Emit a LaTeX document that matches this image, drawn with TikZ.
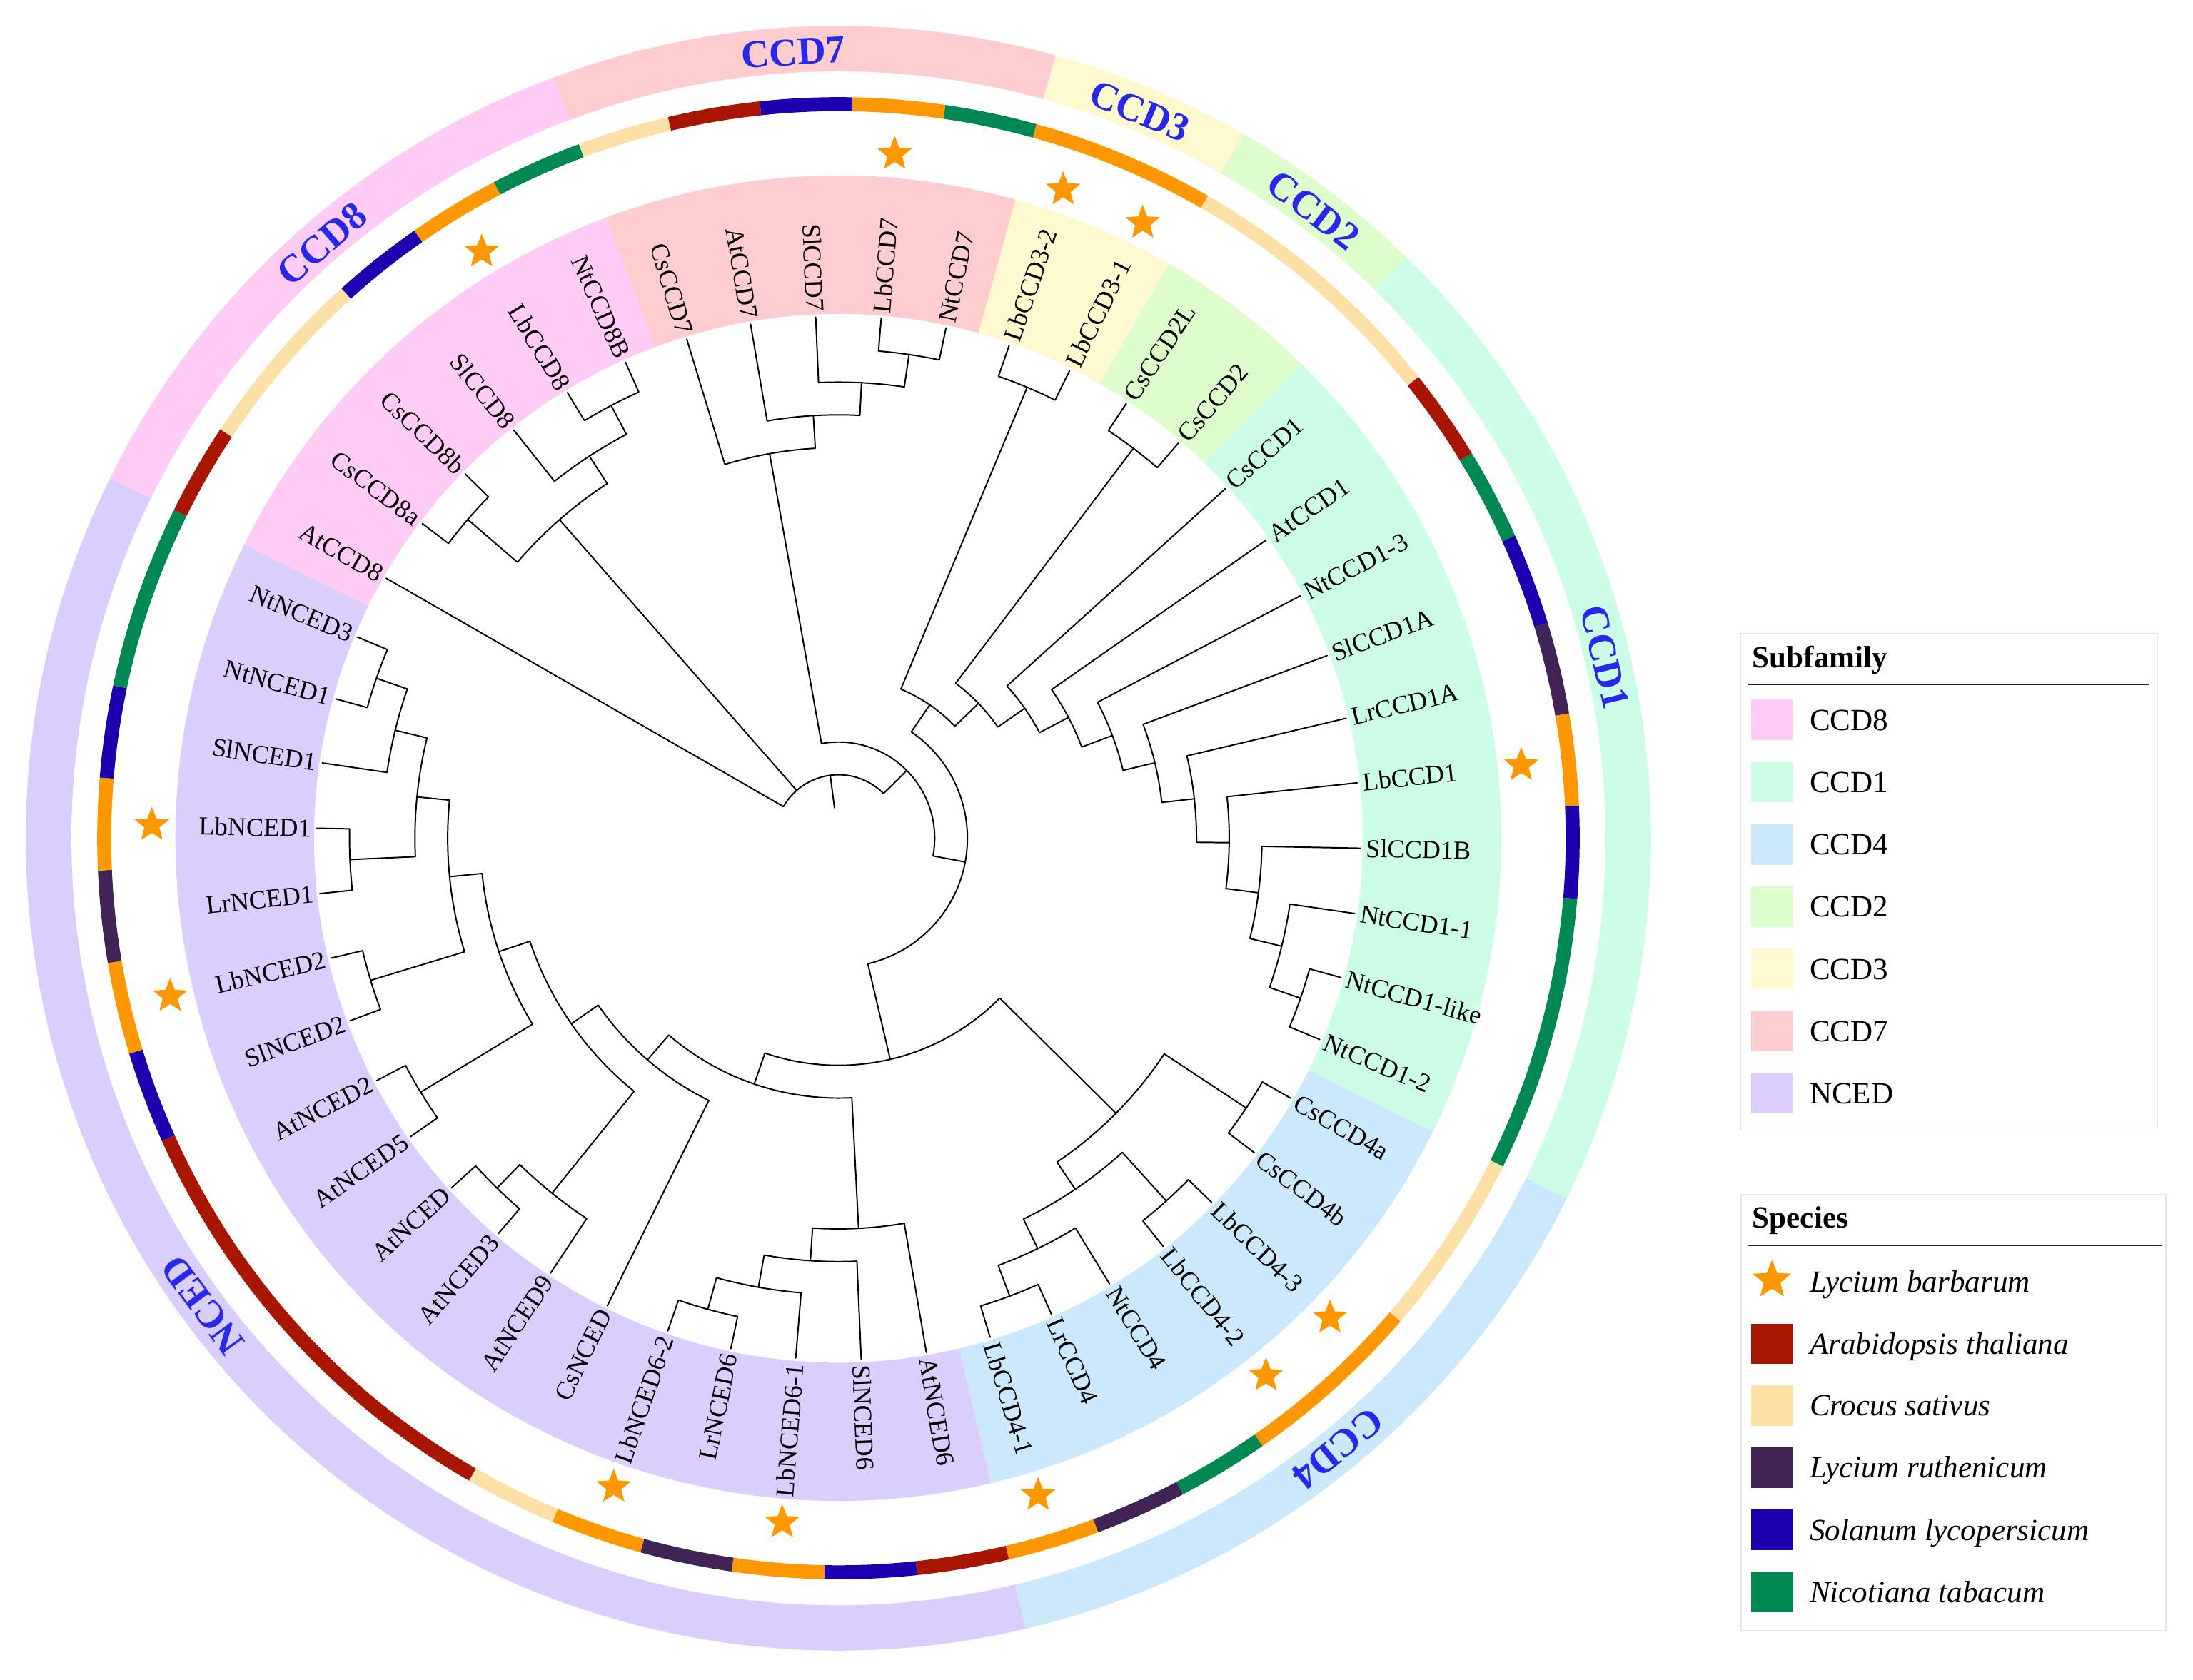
\documentclass[tikz,border=0pt]{standalone}
\usepackage{fontspec}
\setmainfont{Liberation Serif}
\usetikzlibrary{shapes.geometric}
\definecolor{cAt}{RGB}{168,22,2}
\definecolor{cCs}{RGB}{253,224,166}
\definecolor{cLr}{RGB}{65,36,86}
\definecolor{cSl}{RGB}{28,0,176}
\definecolor{cNt}{RGB}{0,136,82}
\definecolor{cLb}{RGB}{255,152,0}
\definecolor{fCCDviii}{RGB}{255,204,245}
\definecolor{fCCDi}{RGB}{204,253,230}
\definecolor{fCCDiv}{RGB}{204,232,253}
\definecolor{fCCDii}{RGB}{222,253,204}
\definecolor{fCCDiii}{RGB}{255,249,207}
\definecolor{fCCDvii}{RGB}{255,205,208}
\definecolor{fNCED}{RGB}{217,206,253}
\definecolor{ringtext}{RGB}{40,40,235}
\definecolor{legframe}{RGB}{230,230,230}
\newcommand{\cladeln}[5]{\draw[branch] (#1:#2) -- (#1:#5) arc[start angle=#1, end angle=#3, radius=#5pt] -- (#3:#4);}
\newcommand{\ringseg}[5]{\fill[#5] (#1:#3) arc[start angle=#1, end angle=#2, radius=#3pt] -- (#2:#4) arc[start angle=#2, end angle=#1, radius=#4pt] -- cycle;}
\tikzset{
  branch/.style={line width=1pt, black, line cap=round, line join=round},
  leafR/.style={font=\fontsize{18.5}{20}\selectfont, inner sep=0pt, anchor=west},
  leafL/.style={font=\fontsize{18.5}{20}\selectfont, inner sep=0pt, anchor=east},
  ringlab/.style={font=\fontsize{28}{30}\selectfont\bfseries, text=ringtext, inner sep=0pt},
  lbstar/.style={star, star points=5, star point ratio=2.3, fill=cLb, draw=none, minimum size=26pt, inner sep=0pt},
  legtext/.style={font=\fontsize{22}{24}\selectfont, anchor=base west, inner sep=0pt},
  legtitle/.style={font=\fontsize{22}{24}\selectfont\bfseries, anchor=base west, inner sep=0pt},
  legbox/.style={draw=legframe, line width=0.8pt},
}
\begin{document}
\begin{tikzpicture}[x=1pt,y=1pt]
\useasboundingbox (-599.5,-602) rectangle (968.5,599.5);
\fill[white] (-599.5,-602) rectangle (968.5,599.5);
% inner subfamily bands
\ringseg{153.7}{110.5}{375}{474}{fCCDviii}
\ringseg{110.5}{74.5}{375}{474}{fCCDvii}
\ringseg{74.5}{60.1}{375}{474}{fCCDiii}
\ringseg{60.1}{45.7}{375}{474}{fCCDii}
\ringseg{45.7}{-26.3}{375}{474}{fCCDi}
\ringseg{-26.3}{-76.7}{375}{474}{fCCDiv}
\ringseg{-76.7}{-206.3}{375}{474}{fNCED}
% outer subfamily ring
\ringseg{153.7}{110.5}{548.5}{581}{fCCDviii}
\ringseg{110.5}{74.5}{548.5}{581}{fCCDvii}
\ringseg{74.5}{60.1}{548.5}{581}{fCCDiii}
\ringseg{60.1}{45.7}{548.5}{581}{fCCDii}
\ringseg{45.7}{-26.3}{548.5}{581}{fCCDi}
\ringseg{-26.3}{-76.7}{548.5}{581}{fCCDiv}
\ringseg{-76.7}{-206.3}{548.5}{581}{fNCED}
% species ring
\ringseg{153.7}{146.5}{520}{530}{cAt}
\ringseg{146.5}{132.1}{520}{530}{cCs}
\ringseg{132.1}{124.9}{520}{530}{cSl}
\ringseg{124.9}{117.7}{520}{530}{cLb}
\ringseg{117.7}{110.5}{520}{530}{cNt}
\ringseg{110.5}{103.3}{520}{530}{cCs}
\ringseg{103.3}{96.1}{520}{530}{cAt}
\ringseg{96.1}{88.9}{520}{530}{cSl}
\ringseg{88.9}{81.7}{520}{530}{cLb}
\ringseg{81.7}{74.5}{520}{530}{cNt}
\ringseg{74.5}{60.1}{520}{530}{cLb}
\ringseg{60.1}{38.5}{520}{530}{cCs}
\ringseg{38.5}{31.3}{520}{530}{cAt}
\ringseg{31.3}{24.1}{520}{530}{cNt}
\ringseg{24.1}{16.9}{520}{530}{cSl}
\ringseg{16.9}{9.7}{520}{530}{cLr}
\ringseg{9.7}{2.5}{520}{530}{cLb}
\ringseg{2.5}{-4.7}{520}{530}{cSl}
\ringseg{-4.7}{-26.3}{520}{530}{cNt}
\ringseg{-26.3}{-40.7}{520}{530}{cCs}
\ringseg{-40.7}{-55.1}{520}{530}{cLb}
\ringseg{-55.1}{-62.3}{520}{530}{cNt}
\ringseg{-62.3}{-69.5}{520}{530}{cLr}
\ringseg{-69.5}{-76.7}{520}{530}{cLb}
\ringseg{-76.7}{-83.9}{520}{530}{cAt}
\ringseg{-83.9}{-91.1}{520}{530}{cSl}
\ringseg{-91.1}{-98.3}{520}{530}{cLb}
\ringseg{-98.3}{-105.5}{520}{530}{cLr}
\ringseg{-105.5}{-112.7}{520}{530}{cLb}
\ringseg{-112.7}{-119.9}{520}{530}{cCs}
\ringseg{-119.9}{-155.9}{520}{530}{cAt}
\ringseg{-155.9}{-163.1}{520}{530}{cSl}
\ringseg{-163.1}{-170.3}{520}{530}{cLb}
\ringseg{-170.3}{-177.5}{520}{530}{cLr}
\ringseg{-177.5}{-184.7}{520}{530}{cLb}
\ringseg{-184.7}{-191.9}{520}{530}{cSl}
\ringseg{-191.9}{-206.3}{520}{530}{cNt}
% stars (Lycium barbarum)
\foreach \a in {121.3,85.3,70.9,63.7,6.1,-44.3,-51.5,-73.1,-94.7,-109.1,-166.7,-181.1}
  \node[lbstar] at (\a:491) {};
% outer ring labels
\node[ringlab, rotate=41.0] (gCCD8) at (131.0:563) {CCD8};
\node[ringlab, rotate=3.3] (gCCD7) at (93.3:563) {CCD7};
\node[ringlab, rotate=-22.5] (gCCD3) at (67.5:563) {CCD3};
\node[ringlab, rotate=-37.1] (gCCD2) at (52.9:563) {CCD2};
\node[ringlab, rotate=-76.7] (gCCD1) at (13.3:563) {CCD1};
\node[ringlab, rotate=-140.7] (gCCD4) at (-50.7:564) {CCD4};
\node[ringlab, rotate=126.3] (gNCED) at (216.3:564) {NCED};
% tree
\cladeln{121.3}{373}{114.1}{373}{349.6}
\cladeln{128.5}{373}{117.7}{349.6}{326.2}
\cladeln{142.9}{373}{135.7}{373}{349.6}
\cladeln{139.3}{349.6}{123.1}{326.2}{302.8}
\cladeln{85.3}{373}{78.1}{373}{349.6}
\cladeln{92.5}{373}{81.7}{349.6}{326.2}
\cladeln{99.7}{373}{87.1}{326.2}{302.8}
\cladeln{106.9}{373}{93.4}{302.8}{279.4}
\cladeln{70.9}{373}{63.7}{373}{349.6}
\cladeln{56.5}{373}{49.3}{373}{349.6}
\cladeln{-15.5}{373}{-22.7}{373}{349.6}
\cladeln{-8.3}{373}{-19.1}{349.6}{326.2}
\cladeln{-1.1}{373}{-13.7}{326.2}{302.8}
\cladeln{6.1}{373}{-7.4}{302.8}{279.4}
\cladeln{13.3}{373}{-0.65}{279.4}{256.0}
\cladeln{20.5}{373}{6.325}{256.0}{232.6}
\cladeln{27.7}{373}{13.4125}{232.6}{209.2}
\cladeln{34.9}{373}{20.556}{209.2}{185.8}
\cladeln{42.1}{373}{27.728}{185.8}{162.4}
\cladeln{52.9}{349.6}{34.914}{162.4}{139.0}
\cladeln{67.3}{349.6}{43.907}{139.0}{115.6}
\cladeln{-29.9}{373}{-37.1}{373}{349.6}
\cladeln{-44.3}{373}{-51.5}{373}{349.6}
\cladeln{-65.9}{373}{-73.1}{373}{349.6}
\cladeln{-58.7}{373}{-69.5}{349.6}{326.2}
\cladeln{-47.9}{349.6}{-64.1}{326.2}{302.8}
\cladeln{-33.5}{349.6}{-56.0}{302.8}{279.4}
\cladeln{-101.9}{373}{-109.1}{373}{349.6}
\cladeln{-94.7}{373}{-105.5}{349.6}{326.2}
\cladeln{-87.5}{373}{-100.1}{326.2}{302.8}
\cladeln{-80.3}{373}{-93.8}{302.8}{279.4}
\cladeln{-130.7}{373}{-137.9}{373}{349.6}
\cladeln{-123.5}{373}{-134.3}{349.6}{326.2}
\cladeln{-145.1}{373}{-152.3}{373}{349.6}
\cladeln{-195.5}{373}{-202.7}{373}{349.6}
\cladeln{-188.3}{373}{-199.1}{349.6}{326.2}
\cladeln{-173.9}{373}{-181.1}{373}{349.6}
\cladeln{-177.5}{349.6}{-193.7}{326.2}{302.8}
\cladeln{-159.5}{373}{-166.7}{373}{349.6}
\cladeln{-163.1}{349.6}{-185.6}{302.8}{279.4}
\cladeln{-148.7}{349.6}{-174.35}{279.4}{256.0}
\cladeln{-128.9}{326.2}{-161.525}{256.0}{232.6}
\cladeln{-116.3}{373}{-145.2125}{232.6}{209.2}
\cladeln{-87.05}{279.4}{-130.756}{209.2}{185.8}
\cladeln{-44.75}{279.4}{-108.903}{185.8}{162.4}
\cladeln{55.603}{115.6}{-76.827}{162.4}{92.2}
\cladeln{100.15}{279.4}{-10.612}{92.2}{68.8}
\cladeln{150.1}{373}{44.769}{68.8}{45.4}
\draw[branch] (131.2:45.4) -- (131.2:302.8);
\draw[branch] (97.435:45.4) -- (97.435:22);
% leaf labels
\node[leafL, rotate=-29.9] (l1) at (150.1:377) {AtCCD8};
\node[leafL, rotate=-37.1] (l2) at (142.9:377) {CsCCD8a};
\node[leafL, rotate=-44.3] (l3) at (135.7:377) {CsCCD8b};
\node[leafL, rotate=-51.5] (l4) at (128.5:377) {SlCCD8};
\node[leafL, rotate=-58.7] (l5) at (121.3:377) {LbCCD8};
\node[leafL, rotate=-65.9] (l6) at (114.1:377) {NtCCD8B};
\node[leafL, rotate=-73.1] (l7) at (106.9:377) {CsCCD7};
\node[leafL, rotate=-80.3] (l8) at (99.7:377) {AtCCD7};
\node[leafL, rotate=-87.5] (l9) at (92.5:377) {SlCCD7};
\node[leafR, rotate=85.3] (l10) at (85.3:377) {LbCCD7};
\node[leafR, rotate=78.1] (l11) at (78.1:377) {NtCCD7};
\node[leafR, rotate=70.9] (l12) at (70.9:377) {LbCCD3-2};
\node[leafR, rotate=63.7] (l13) at (63.7:377) {LbCCD3-1};
\node[leafR, rotate=56.5] (l14) at (56.5:377) {CsCCD2L};
\node[leafR, rotate=49.3] (l15) at (49.3:377) {CsCCD2};
\node[leafR, rotate=42.1] (l16) at (42.1:377) {CsCCD1};
\node[leafR, rotate=34.9] (l17) at (34.9:377) {AtCCD1};
\node[leafR, rotate=27.7] (l18) at (27.7:377) {NtCCD1-3};
\node[leafR, rotate=20.5] (l19) at (20.5:377) {SlCCD1A};
\node[leafR, rotate=13.3] (l20) at (13.3:377) {LrCCD1A};
\node[leafR, rotate=6.1] (l21) at (6.1:377) {LbCCD1};
\node[leafR, rotate=-1.1] (l22) at (-1.1:377) {SlCCD1B};
\node[leafR, rotate=-8.3] (l23) at (-8.3:377) {NtCCD1-1};
\node[leafR, rotate=-15.5] (l24) at (-15.5:377) {NtCCD1-like};
\node[leafR, rotate=-22.7] (l25) at (-22.7:377) {NtCCD1-2};
\node[leafR, rotate=-29.9] (l26) at (-29.9:377) {CsCCD4a};
\node[leafR, rotate=-37.1] (l27) at (-37.1:377) {CsCCD4b};
\node[leafR, rotate=-44.3] (l28) at (-44.3:377) {LbCCD4-3};
\node[leafR, rotate=-51.5] (l29) at (-51.5:377) {LbCCD4-2};
\node[leafR, rotate=-58.7] (l30) at (-58.7:377) {NtCCD4};
\node[leafR, rotate=-65.9] (l31) at (-65.9:377) {LrCCD4};
\node[leafR, rotate=-73.1] (l32) at (-73.1:377) {LbCCD4-1};
\node[leafR, rotate=-80.3] (l33) at (-80.3:377) {AtNCED6};
\node[leafR, rotate=-87.5] (l34) at (-87.5:377) {SlNCED6};
\node[leafL, rotate=85.3] (l35) at (-94.7:377) {LbNCED6-1};
\node[leafL, rotate=78.1] (l36) at (-101.9:377) {LrNCED6};
\node[leafL, rotate=70.9] (l37) at (-109.1:377) {LbNCED6-2};
\node[leafL, rotate=63.7] (l38) at (-116.3:377) {CsNCED};
\node[leafL, rotate=56.5] (l39) at (-123.5:377) {AtNCED9};
\node[leafL, rotate=49.3] (l40) at (-130.7:377) {AtNCED3};
\node[leafL, rotate=42.1] (l41) at (-137.9:377) {AtNCED};
\node[leafL, rotate=34.9] (l42) at (-145.1:377) {AtNCED5};
\node[leafL, rotate=27.7] (l43) at (-152.3:377) {AtNCED2};
\node[leafL, rotate=20.5] (l44) at (-159.5:377) {SlNCED2};
\node[leafL, rotate=13.3] (l45) at (-166.7:377) {LbNCED2};
\node[leafL, rotate=6.1] (l46) at (-173.9:377) {LrNCED1};
\node[leafL, rotate=-1.1] (l47) at (-181.1:377) {LbNCED1};
\node[leafL, rotate=-8.3] (l48) at (-188.3:377) {SlNCED1};
\node[leafL, rotate=-15.5] (l49) at (-195.5:377) {NtNCED1};
\node[leafL, rotate=-22.7] (l50) at (-202.7:377) {NtNCED3};
% legend: subfamily
\draw[legbox] (644.9,146.6) rectangle (943.2,-208.7);
\node[legtitle] (tsub) at (653.3,121.8) {Subfamily};
\draw[line width=0.8pt, black!85] (650.5,109.9) -- (937.5,109.9);
\fill[fCCDviii] (652.5,70.1) rectangle (682.5,99.1);
\node[legtext] (s1) at (694.2,77.3) {CCD8};
\fill[fCCDi] (652.5,25.6) rectangle (682.5,54.6);
\node[legtext] (s2) at (694.2,32.8) {CCD1};
\fill[fCCDiv] (652.5,-18.9) rectangle (682.5,10.1);
\node[legtext] (s3) at (694.2,-11.7) {CCD4};
\fill[fCCDii] (652.5,-63.5) rectangle (682.5,-34.5);
\node[legtext] (s4) at (694.2,-56.3) {CCD2};
\fill[fCCDiii] (652.5,-108.0) rectangle (682.5,-79.0);
\node[legtext] (s5) at (694.2,-100.8) {CCD3};
\fill[fCCDvii] (652.5,-152.5) rectangle (682.5,-123.5);
\node[legtext] (s6) at (694.2,-145.3) {CCD7};
\fill[fNCED] (652.5,-197.0) rectangle (682.5,-168.0);
\node[legtext] (s7) at (694.2,-189.8) {NCED};
% legend: species
\draw[legbox] (645.3,-254.6) rectangle (949.2,-566.8);
\node[legtitle] (tspe) at (653.3,-278.9) {Species};
\draw[line width=0.8pt, black!85] (650.5,-291.3) -- (946.5,-291.3);
\node[lbstar, minimum size=29pt] (k1) at (667.5,-316.0) {};
\node[legtext, font=\fontsize{22}{24}\selectfont\itshape] (p1) at (694.2,-324.4) {Lycium barbarum};
\fill[cAt] (652.5,-376.1) rectangle (682.5,-347.1);
\node[legtext, font=\fontsize{22}{24}\selectfont\itshape] (p2) at (694.2,-368.9) {Arabidopsis thaliana};
\fill[cCs] (652.5,-420.1) rectangle (682.5,-391.1);
\node[legtext, font=\fontsize{22}{24}\selectfont\itshape] (p3) at (694.2,-412.9) {Crocus sativus};
\fill[cLr] (652.5,-464.7) rectangle (682.5,-435.7);
\node[legtext, font=\fontsize{22}{24}\selectfont\itshape] (p4) at (694.2,-457.5) {Lycium ruthenicum};
\fill[cSl] (652.5,-509.2) rectangle (682.5,-480.2);
\node[legtext, font=\fontsize{22}{24}\selectfont\itshape] (p5) at (694.2,-502.0) {Solanum lycopersicum};
\fill[cNt] (652.5,-553.7) rectangle (682.5,-524.7);
\node[legtext, font=\fontsize{22}{24}\selectfont\itshape] (p6) at (694.2,-546.5) {Nicotiana tabacum};
\end{tikzpicture}
\end{document}
